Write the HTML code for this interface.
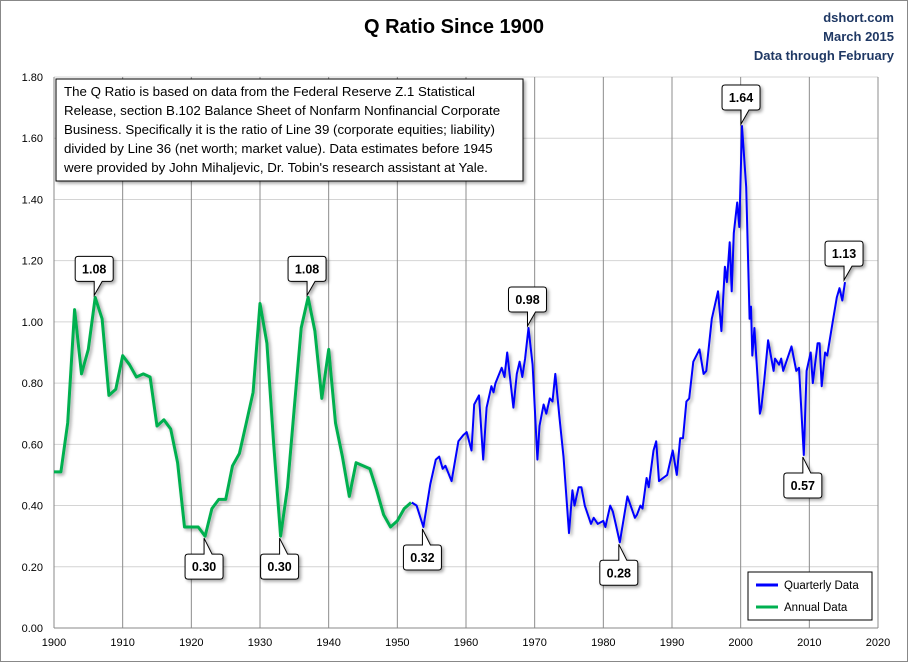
<!DOCTYPE html>
<html><head><meta charset="utf-8">
<style>
html,body{margin:0;padding:0;background:#fff;}
body{width:908px;height:662px;overflow:hidden;font-family:"Liberation Sans",sans-serif;}
svg text{font-family:"Liberation Sans",sans-serif;}
</style></head>
<body>
<svg id="chart" width="908" height="662" viewBox="0 0 908 662">
<defs>
<filter id="sh" x="-20%" y="-20%" width="150%" height="150%"><feDropShadow dx="2" dy="2" stdDeviation="1.5" flood-color="#000" flood-opacity="0.35"/></filter>
</defs>
<rect x="0.5" y="0.5" width="907" height="661" fill="#fff" stroke="#888"/>
<text x="454" y="33" text-anchor="middle" font-size="20" font-weight="bold">Q Ratio Since 1900</text>
<text x="894" y="22" text-anchor="end" font-size="13" font-weight="bold" fill="#1f3864">dshort.com</text>
<text x="894" y="41" text-anchor="end" font-size="13" font-weight="bold" fill="#1f3864">March 2015</text>
<text x="894" y="60" text-anchor="end" font-size="13" font-weight="bold" fill="#1f3864">Data through February</text>
<g id="grid"></g>
<g id="axes"></g>
<g id="series"></g>
<g id="callouts"></g>
<g filter="url(#sh)">
<rect x="56" y="79" width="467" height="102" fill="#fff" stroke="#000"/>
</g>
<text font-size="13.3">
<tspan x="64" y="96">The Q Ratio is based on data from the Federal Reserve Z.1 Statistical</tspan>
<tspan x="64" y="115">Release, section B.102 Balance Sheet of Nonfarm Nonfinancial Corporate</tspan>
<tspan x="64" y="134">Business. Specifically it is the ratio of Line 39  (corporate equities; liability)</tspan>
<tspan x="64" y="153">divided by Line 36 (net worth; market value).  Data estimates before 1945</tspan>
<tspan x="64" y="172">were provided by John Mihaljevic, Dr. Tobin's research assistant at Yale.</tspan>
</text>
<g>
<rect x="748" y="572" width="124" height="48" fill="#fff" stroke="#000"/>
<line x1="756" y1="585" x2="778" y2="585" stroke="#0000ff" stroke-width="3"/>
<text x="784" y="589" font-size="11.5">Quarterly Data</text>
<line x1="756" y1="607" x2="778" y2="607" stroke="#00b050" stroke-width="3"/>
<text x="784" y="611" font-size="11.5">Annual Data</text>
</g>
</svg>
<script>
const yTicks = [0,0.2,0.4,0.6,0.8,1.0,1.2,1.4,1.6,1.8];
const xTicks = [1900,1910,1920,1930,1940,1950,1960,1970,1980,1990,2000,2010,2020];
const annualYears = [1900,1901,1902,1903,1904,1905,1906,1907,1908,1909,1910,1911,1912,1913,1914,1915,1916,1917,1918,1919,1920,1921,1922,1923,1924,1925,1926,1927,1928,1929,1930,1931,1932,1933,1934,1935,1936,1937,1938,1939,1940,1941,1942,1943,1944,1945,1946,1947,1948,1949,1950,1951,1952];
const annualValues = [0.51,0.51,0.67,1.04,0.83,0.91,1.08,1.01,0.76,0.78,0.89,0.86,0.82,0.83,0.82,0.66,0.68,0.65,0.54,0.33,0.33,0.33,0.30,0.39,0.42,0.42,0.53,0.57,0.67,0.77,1.06,0.93,0.60,0.30,0.46,0.72,0.98,1.08,0.97,0.75,0.91,0.67,0.56,0.43,0.54,0.53,0.52,0.45,0.37,0.33,0.35,0.39,0.41];
const quarterlyDates = [1952.1,1952.8,1953.8,1954.8,1955.6,1956.1,1956.6,1957.0,1957.9,1958.9,1959.6,1960.1,1960.8,1961.2,1961.9,1962.5,1963.0,1963.7,1964.0,1964.3,1965.2,1965.6,1966.0,1966.9,1967.4,1967.8,1968.2,1968.6,1969.1,1969.7,1970.4,1970.7,1971.3,1971.7,1972.2,1972.6,1973.0,1973.6,1974.2,1975.0,1975.5,1975.8,1976.4,1976.8,1977.3,1978.2,1978.6,1979.2,1980.0,1980.3,1981.0,1981.4,1981.8,1982.4,1983.5,1984.6,1984.9,1985.4,1985.7,1986.3,1986.6,1987.3,1987.7,1988.1,1988.7,1989.3,1990.1,1990.7,1991.2,1991.6,1992.1,1992.5,1993.1,1994.0,1994.6,1995.0,1995.8,1996.7,1997.2,1997.7,1998.0,1998.4,1998.7,1999.0,1999.5,1999.8,2000.2,2000.8,2001.3,2001.5,2001.7,2002.0,2002.8,2003.0,2003.4,2004.0,2004.8,2005.0,2005.6,2005.9,2006.2,2007.4,2008.1,2008.5,2009.2,2009.6,2010.2,2010.5,2011.2,2011.5,2011.8,2012.3,2012.6,2012.9,2013.4,2014.0,2014.4,2014.8,2015.2];
const quarterlyValues = [0.41,0.40,0.33,0.47,0.55,0.56,0.52,0.53,0.48,0.61,0.63,0.64,0.58,0.73,0.76,0.55,0.72,0.79,0.77,0.80,0.85,0.82,0.90,0.72,0.83,0.87,0.82,0.88,0.98,0.86,0.55,0.66,0.73,0.70,0.75,0.74,0.83,0.69,0.56,0.31,0.45,0.40,0.46,0.46,0.40,0.34,0.36,0.34,0.35,0.33,0.40,0.38,0.34,0.28,0.43,0.36,0.37,0.40,0.39,0.49,0.46,0.58,0.61,0.48,0.49,0.50,0.58,0.50,0.62,0.62,0.74,0.75,0.87,0.91,0.83,0.84,1.01,1.10,0.97,1.18,1.13,1.26,1.10,1.29,1.39,1.31,1.64,1.44,1.01,1.05,0.89,0.98,0.70,0.72,0.80,0.94,0.84,0.88,0.86,0.88,0.84,0.92,0.84,0.85,0.565,0.84,0.90,0.80,0.93,0.93,0.79,0.90,0.89,0.93,1.00,1.08,1.11,1.07,1.13];
const calloutLabels = ["1.08","1.08","0.30","0.30","0.32","0.98","0.28","1.64","0.57","1.13"];
const calloutYears = [1906,1937,1922,1933,1953.8,1969.1,1982.4,2000.2,2009.2,2015.2];
const calloutValues = [1.08,1.08,0.30,0.30,0.33,0.98,0.28,1.64,0.565,1.13];
const calloutAbove = [true,true,false,false,false,true,false,true,false,true];

const X0=54,X1=878,Y0=628,Y1=77;
const xs = yr => X0 + (yr-1900)/120*(X1-X0);
const ys = v => Y0 - v/1.8*(Y0-Y1);
const NS="http://www.w3.org/2000/svg";
function mk(tag, attrs, parent){const e=document.createElementNS(NS,tag);for(const k in attrs)e.setAttribute(k,attrs[k]);parent.appendChild(e);return e;}
const grid=document.getElementById('grid'), axes=document.getElementById('axes'), series=document.getElementById('series'), co=document.getElementById('callouts');

yTicks.forEach(t=>{
  const l=mk('line',{x1:X0,x2:X1,y1:ys(t),y2:ys(t),stroke:'#d4d4d4','stroke-width':1},grid);
  
  
  const tx=mk('text',{x:43,y:ys(t)+4,'text-anchor':'end','font-size':11},axes);
  tx.textContent=t.toFixed(2);
  
  
});
xTicks.forEach(t=>{
  if(t>1900){
    const l=mk('line',{x1:xs(t),x2:xs(t),y1:Y1,y2:Y0,stroke:'#8c8c8c','stroke-width':1},grid);
    
    
  }
  const tx=mk('text',{x:xs(t),y:646,'text-anchor':'middle','font-size':11},axes);
  tx.textContent=t;
  
  
});
const ax=mk('line',{x1:X0,x2:X0,y1:Y1,y2:Y0,stroke:'#888'},axes);


const bx=mk('line',{x1:X0,x2:X1,y1:Y0,y2:Y0,stroke:'#888'},axes);



function path(xsArr, vals){return xsArr.map((y,i)=>(i?'L':'M')+xs(y).toFixed(1)+','+ys(vals[i]).toFixed(1)).join(' ');}
const g=mk('path',{d:path(annualYears,annualValues),fill:'none',stroke:'#00b050','stroke-width':3,'stroke-linejoin':'round',filter:'url(#sh)'},series);


const b=mk('path',{d:path(quarterlyDates,quarterlyValues),fill:'none',stroke:'#0000ff','stroke-width':2,'stroke-linejoin':'round',filter:'url(#sh)'},series);



calloutLabels.forEach((lab,i)=>{
  const px=xs(calloutYears[i]), py=ys(calloutValues[i]);
  const w=38,h=25, gap=16, r=3;
  const bxl=px-w/2-1;
  let d, ty;
  if(calloutAbove[i]){
    const by=py-gap-h;
    d=`M${bxl+r},${by} h${w-2*r} q${r},0 ${r},${r} v${h-2*r} q0,${r} -${r},${r} h-${w/2-8-r} l-8,${gap-2} l0,-${gap-2} h-${w/2-r} q-${r},0 -${r},-${r} v-${h-2*r} q0,-${r} ${r},-${r} z`;
    ty=by+17;
  } else {
    const by=py+gap+2;
    d=`M${bxl+r},${by} h${w/2-r} l0,-${gap} l8,${gap} h${w/2-8-r} q${r},0 ${r},${r} v${h-2*r} q0,${r} -${r},${r} h-${w-2*r} q-${r},0 -${r},-${r} v-${h-2*r} q0,-${r} ${r},-${r} z`;
    ty=by+17;
  }
  const p=mk('path',{d:d,fill:'#fff',stroke:'#000','stroke-width':1,filter:'url(#sh)'},co);
  
  
  const t=mk('text',{x:bxl+w/2,y:ty,'text-anchor':'middle','font-size':12.5,'font-weight':'bold'},co);
  t.textContent=lab;
  
  
});
</script>
</body></html>
